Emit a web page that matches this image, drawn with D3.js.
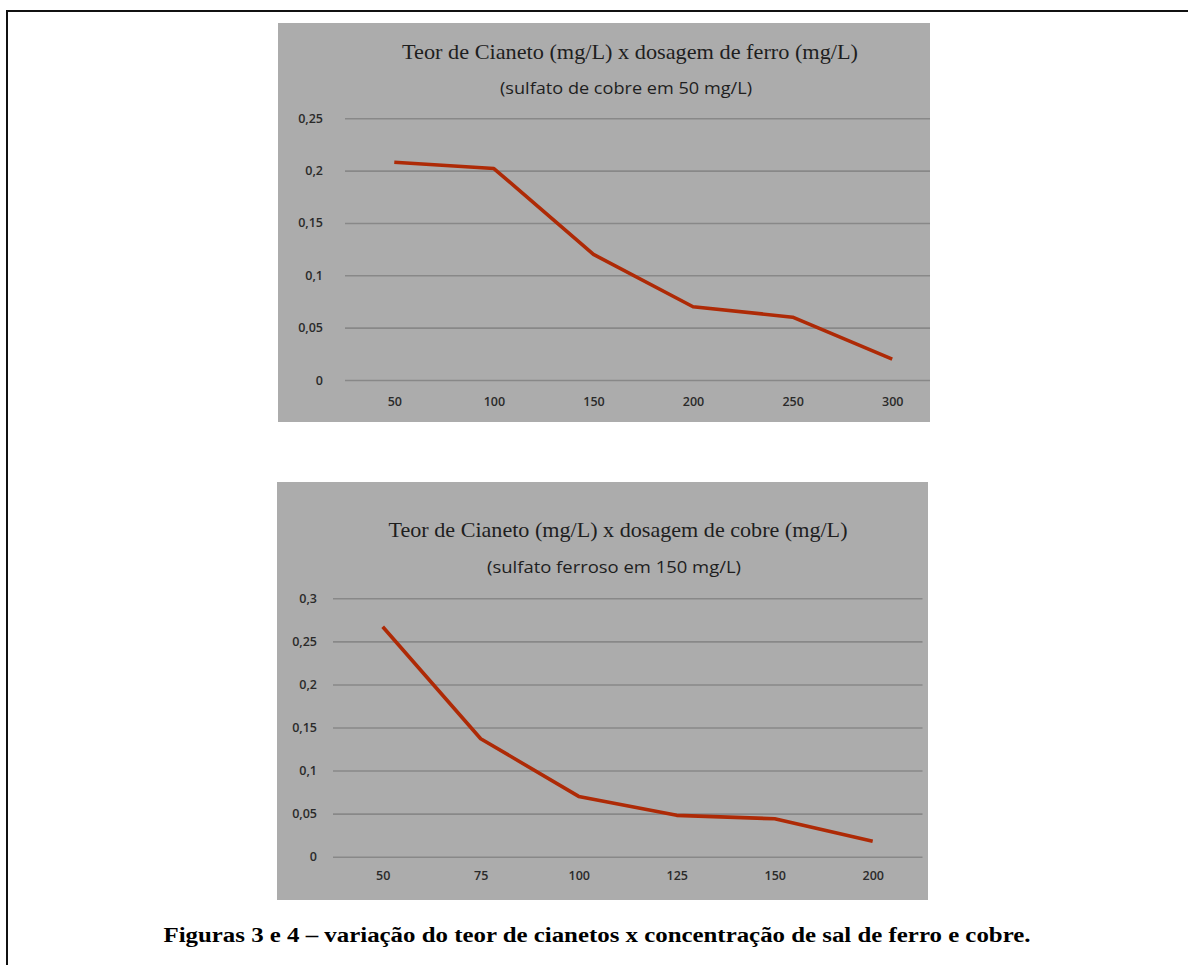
<!DOCTYPE html>
<html>
<head>
<meta charset="utf-8">
<script src="https://cdn.jsdelivr.net/npm/d3@7/dist/d3.min.js"></script>
<style>
  html, body { margin: 0; padding: 0; background: #ffffff; }
  svg { display: block; }
</style>
</head>
<body>
<svg id="fig" width="1188" height="965"></svg>
<script>
// ---------- DATA ----------
const ferroCategories = ["50", "100", "150", "200", "250", "300"];
const ferroValues = [0.208, 0.202, 0.120, 0.070, 0.060, 0.020];
const ferroYTicks = [0, 0.05, 0.1, 0.15, 0.2, 0.25];
const ferroTitle = "Teor de Cianeto (mg/L) x dosagem de ferro (mg/L)";
const ferroSubtitle = "(sulfato de cobre em 50 mg/L)";

const cobreCategories = ["50", "75", "100", "125", "150", "200"];
const cobreValues = [0.267, 0.137, 0.070, 0.048, 0.044, 0.018];
const cobreYTicks = [0, 0.05, 0.1, 0.15, 0.2, 0.25, 0.3];
const cobreTitle = "Teor de Cianeto (mg/L) x dosagem de cobre (mg/L)";
const cobreSubtitle = "(sulfato ferroso em 150 mg/L)";

const captionText = "Figuras 3 e 4 \u2013 variação do teor de cianetos x concentração de sal de ferro e cobre.";

// ---------- LAYOUT ----------
const ptLocale = d3.formatLocale({ decimal: ",", thousands: ".", grouping: [3], currency: ["", ""] });
const fmt = ptLocale.format("~g");

const svg = d3.select("#fig");

// frame (top and left edges)
svg.append("line").attr("x1", 7).attr("y1", 11).attr("x2", 1188).attr("y2", 11)
  .attr("stroke", "#111").attr("stroke-width", 2);
svg.append("line").attr("x1", 7).attr("y1", 10).attr("x2", 7).attr("y2", 965)
  .attr("stroke", "#111").attr("stroke-width", 2);

function drawChart(opt) {
  const g = svg.append("g");
  const clipId = "clip" + opt.id;
  svg.append("defs").append("clipPath").attr("id", clipId)
    .append("rect").attr("x", opt.box.x).attr("y", opt.box.y)
    .attr("width", opt.box.w).attr("height", opt.box.h);

  g.append("rect")
    .attr("x", opt.box.x).attr("y", opt.box.y)
    .attr("width", opt.box.w).attr("height", opt.box.h)
    .attr("fill", "#acacac");

  const x = d3.scalePoint().domain(opt.categories).range(opt.xRange).padding(0.5);
  const y = d3.scaleLinear().domain([0, d3.max(opt.yTicks)]).range(opt.yRange);

  const inner = g.append("g").attr("clip-path", `url(#${clipId})`);

  // y axis with gridlines
  const yAxis = d3.axisLeft(y).tickValues(opt.yTicks).tickFormat(fmt)
    .tickSize(-(opt.gridEnd - opt.gridStart)).tickPadding(opt.yPad);
  const ya = inner.append("g").attr("transform", `translate(${opt.gridStart},0)`).call(yAxis);
  ya.select(".domain").remove();
  ya.selectAll(".tick line").attr("stroke", "#888888").attr("stroke-width", 1.6);
  ya.selectAll(".tick text")
    .attr("fill", "#2a2a2a").attr("font-family", "'Open Sans', sans-serif")
    .attr("font-size", 12.5).attr("font-weight", 600);

  // x axis labels
  const xAxis = d3.axisBottom(x).tickSize(0).tickPadding(opt.xPad);
  const xa = inner.append("g").attr("transform", `translate(0,${opt.yRange[0]})`).call(xAxis);
  xa.select(".domain").remove();
  xa.selectAll(".tick text")
    .attr("fill", "#2a2a2a").attr("font-family", "'Open Sans', sans-serif")
    .attr("font-size", 12.5).attr("font-weight", 600);

  // line
  const line = d3.line().x((d, i) => x(opt.categories[i])).y(d => y(d));
  inner.append("path").datum(opt.values)
    .attr("d", line)
    .attr("fill", "none")
    .attr("stroke", "#ae2a06")
    .attr("stroke-width", 3.6)
    .attr("stroke-linejoin", "round");

  // titles
  g.append("text").text(opt.title)
    .attr("x", opt.titleX).attr("y", opt.titleY)
    .attr("text-anchor", "middle")
    .attr("font-family", "'Liberation Serif', serif").attr("font-size", 21)
    .attr("fill", "#1e1e1e")
    .attr("textLength", opt.titleLen).attr("lengthAdjust", "spacingAndGlyphs");
  g.append("text").text(opt.subtitle)
    .attr("x", opt.subX).attr("y", opt.subY)
    .attr("text-anchor", "middle")
    .attr("font-family", "'Open Sans', sans-serif").attr("font-size", 15.5)
    .attr("fill", "#1e1e1e")
    .attr("textLength", opt.subLen).attr("lengthAdjust", "spacingAndGlyphs");
}

drawChart({
  id: 1,
  box: { x: 278, y: 23, w: 652, h: 399 },
  categories: ferroCategories, values: ferroValues, yTicks: ferroYTicks,
  xRange: [344.5, 942], yRange: [380, 118.3],
  gridStart: 345, gridEnd: 930, yPad: 22, xPad: 17,
  title: ferroTitle, titleX: 630, titleY: 59, titleLen: 456,
  subtitle: ferroSubtitle, subX: 626, subY: 94, subLen: 252
});

drawChart({
  id: 2,
  box: { x: 277, y: 482, w: 651, h: 418 },
  categories: cobreCategories, values: cobreValues, yTicks: cobreYTicks,
  xRange: [333.7, 921.7], yRange: [856.7, 598.3],
  gridStart: 333, gridEnd: 922.5, yPad: 16, xPad: 14,
  title: cobreTitle, titleX: 618, titleY: 537, titleLen: 459,
  subtitle: cobreSubtitle, subX: 614, subY: 573, subLen: 254
});

svg.append("text").text(captionText)
  .attr("x", 597).attr("y", 942)
  .attr("text-anchor", "middle")
  .attr("font-family", "'Liberation Serif', serif").attr("font-weight", "bold")
  .attr("font-size", 20).attr("fill", "#000")
  .attr("textLength", 867).attr("lengthAdjust", "spacingAndGlyphs");
</script>
</body>
</html>
